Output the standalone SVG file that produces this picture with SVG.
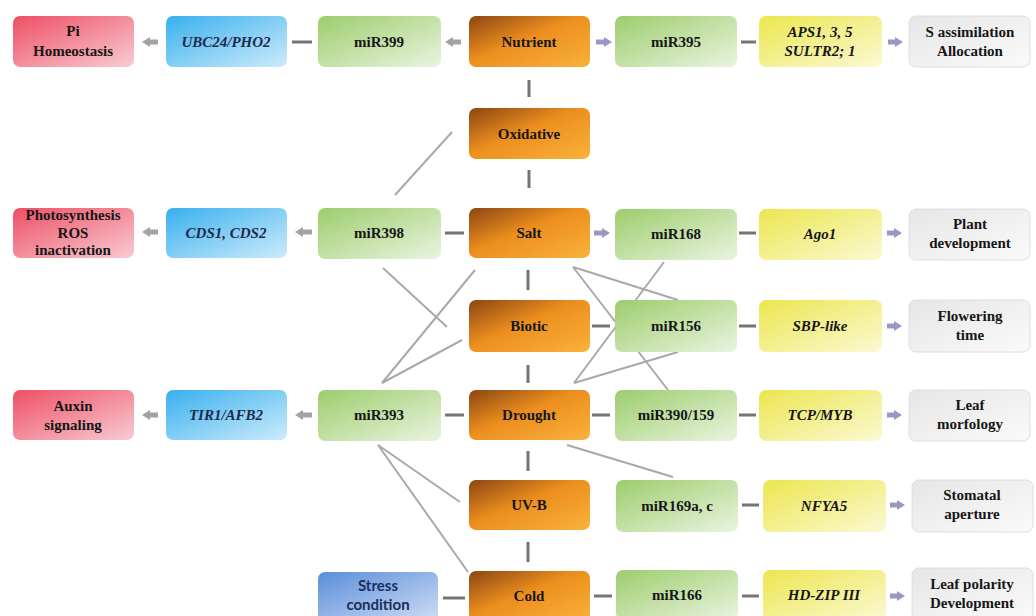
<svg xmlns="http://www.w3.org/2000/svg" width="1036" height="616" viewBox="0 0 1036 616">
<defs>
<linearGradient id="gRed" x1="0" y1="0" x2="1" y2="1"><stop offset="0" stop-color="#ee4f64"/><stop offset="1" stop-color="#f9cbd3"/></linearGradient>
<linearGradient id="gBlue" x1="0" y1="0" x2="1" y2="1"><stop offset="0" stop-color="#38b0ee"/><stop offset="1" stop-color="#cdebfb"/></linearGradient>
<linearGradient id="gGreen" x1="0" y1="0" x2="1" y2="1"><stop offset="0" stop-color="#9ccd6c"/><stop offset="1" stop-color="#eaf4e0"/></linearGradient>
<linearGradient id="gOrange" x1="0" y1="0" x2="1" y2="1"><stop offset="0" stop-color="#8a4612"/><stop offset="0.45" stop-color="#ec8e1e"/><stop offset="1" stop-color="#f9b23a"/></linearGradient>
<linearGradient id="gYellow" x1="0" y1="0" x2="1" y2="1"><stop offset="0" stop-color="#ece64e"/><stop offset="1" stop-color="#fbf9d4"/></linearGradient>
<linearGradient id="gGray" x1="0" y1="0" x2="1" y2="1"><stop offset="0" stop-color="#e6e6e6"/><stop offset="1" stop-color="#fafafa"/></linearGradient>
<linearGradient id="gStress" x1="0" y1="0" x2="1" y2="1"><stop offset="0" stop-color="#5a8edb"/><stop offset="1" stop-color="#d0def5"/></linearGradient>
<marker id="ahL" markerUnits="userSpaceOnUse" markerWidth="8" markerHeight="10" refX="1" refY="5" orient="auto"><path d="M0,0 L8,5 L0,10 Z" fill="#a2a2a6"/></marker>
<marker id="ahR" markerUnits="userSpaceOnUse" markerWidth="8" markerHeight="10" refX="1" refY="5" orient="auto"><path d="M0,0 L8,5 L0,10 Z" fill="#9a98c2"/></marker>
</defs>
<style>
.box{stroke:none}
.gray{stroke:#dedede;stroke-width:1}
.t{font-family:"Liberation Serif","Times New Roman",serif;font-weight:bold;font-size:15px;fill:#161616;text-anchor:middle}
.i{font-style:italic}
.nv{fill:#1c2a4e}
.ss{font-family:Lato,"Open Sans",sans-serif;font-weight:bold;font-size:15px;fill:#1b2f5a;text-anchor:middle}
.diag{stroke:#a9a9a9;stroke-width:2;fill:none}
.dash{stroke:#747474;stroke-width:3}
.arL{stroke:#a2a2a6;stroke-width:5;marker-end:url(#ahL)}
.arR{stroke:#9a98c2;stroke-width:5;marker-end:url(#ahR)}
</style>
<rect width="1036" height="616" fill="#ffffff"/>
<g id="connectors">
<line class="diag" x1="395" y1="195" x2="452" y2="132"/>
<line class="diag" x1="383" y1="268" x2="447" y2="327"/>
<line class="diag" x1="475" y1="270" x2="382" y2="383"/>
<line class="diag" x1="462" y1="340" x2="382" y2="383"/>
<line class="diag" x1="378" y1="445" x2="460" y2="502"/>
<line class="diag" x1="378" y1="445" x2="468" y2="572"/>
<line class="diag" x1="567" y1="445" x2="673" y2="477"/>
<line class="diag" x1="573" y1="267" x2="678" y2="300"/>
<line class="diag" x1="573" y1="267" x2="668" y2="390"/>
<line class="diag" x1="574" y1="383" x2="664" y2="262"/>
<line class="diag" x1="574" y1="383" x2="678" y2="352"/>
<line class="dash" x1="529" y1="80" x2="529" y2="97"/>
<line class="dash" x1="529" y1="170" x2="529" y2="188"/>
<line class="dash" x1="528" y1="270" x2="528" y2="290"/>
<line class="dash" x1="528" y1="365" x2="528" y2="383"/>
<line class="dash" x1="528" y1="451" x2="528" y2="471"/>
<line class="dash" x1="528" y1="542" x2="528" y2="562"/>
<line class="arL" x1="158" y1="42" x2="149" y2="42"/>
<line class="dash" x1="292" y1="42" x2="312" y2="42"/>
<line class="arL" x1="461" y1="42" x2="452" y2="42"/>
<line class="arR" x1="596" y1="42" x2="605" y2="42"/>
<line class="dash" x1="741" y1="42" x2="756" y2="42"/>
<line class="arR" x1="888" y1="42" x2="896" y2="42"/>
<line class="arL" x1="158" y1="232" x2="149" y2="232"/>
<line class="arL" x1="312" y1="232" x2="302" y2="232"/>
<line class="dash" x1="445" y1="233" x2="464" y2="233"/>
<line class="arR" x1="594" y1="233" x2="603" y2="233"/>
<line class="dash" x1="739" y1="233" x2="756" y2="233"/>
<line class="arR" x1="887" y1="233" x2="895" y2="233"/>
<line class="dash" x1="592" y1="326" x2="610" y2="326"/>
<line class="dash" x1="739" y1="326" x2="756" y2="326"/>
<line class="arR" x1="887" y1="326" x2="895" y2="326"/>
<line class="arL" x1="158" y1="415" x2="149" y2="415"/>
<line class="arL" x1="312" y1="415" x2="302" y2="415"/>
<line class="dash" x1="445" y1="415" x2="464" y2="415"/>
<line class="dash" x1="592" y1="415" x2="610" y2="415"/>
<line class="dash" x1="739" y1="415" x2="756" y2="415"/>
<line class="arR" x1="887" y1="415" x2="895" y2="415"/>
<line class="dash" x1="742" y1="505" x2="759" y2="505"/>
<line class="arR" x1="890" y1="505" x2="898" y2="505"/>
<line class="dash" x1="443" y1="598" x2="465" y2="598"/>
<line class="dash" x1="594" y1="596" x2="612" y2="596"/>
<line class="dash" x1="742" y1="596" x2="759" y2="596"/>
<line class="arR" x1="890" y1="596" x2="898" y2="596"/>
</g>
<g id="n-pi"><rect class="box" x="13" y="16" width="121" height="51" rx="7" fill="url(#gRed)"/><text class="t" x="73" y="36">Pi</text><text class="t" x="73" y="56">Homeostasis</text></g>
<g id="n-ubc24"><rect class="box" x="166" y="16" width="121" height="51" rx="7" fill="url(#gBlue)"/><text class="t i nv" x="226" y="47">UBC24/PHO2</text></g>
<g id="n-mir399"><rect class="box" x="318" y="16" width="123" height="51" rx="7" fill="url(#gGreen)"/><text class="t" x="379" y="47">miR399</text></g>
<g id="n-nutrient"><rect class="box" x="469" y="16" width="121" height="51" rx="7" fill="url(#gOrange)"/><text class="t" x="529" y="47">Nutrient</text></g>
<g id="n-mir395"><rect class="box" x="615" y="16" width="122" height="51" rx="7" fill="url(#gGreen)"/><text class="t" x="676" y="47">miR395</text></g>
<g id="n-aps"><rect class="box" x="759" y="16" width="123" height="51" rx="7" fill="url(#gYellow)"/><text class="t i" x="820" y="37">APS1, 3, 5</text><text class="t i" x="820" y="56">SULTR2; 1</text></g>
<g id="n-sassim"><rect class="box gray" x="909" y="16" width="121" height="51" rx="7" fill="url(#gGray)"/><text class="t" x="970" y="37">S assimilation</text><text class="t" x="970" y="56">Allocation</text></g>
<g id="n-oxidative"><rect class="box" x="469" y="108" width="121" height="51" rx="7" fill="url(#gOrange)"/><text class="t" x="529" y="139">Oxidative</text></g>
<g id="n-photo"><rect class="box" x="13" y="208" width="121" height="50" rx="7" fill="url(#gRed)"/><text class="t" x="73" y="220">Photosynthesis</text><text class="t" x="73" y="238">ROS</text><text class="t" x="73" y="255">inactivation</text></g>
<g id="n-cds"><rect class="box" x="166" y="208" width="121" height="50" rx="7" fill="url(#gBlue)"/><text class="t i nv" x="226" y="238">CDS1, CDS2</text></g>
<g id="n-mir398"><rect class="box" x="318" y="208" width="123" height="51" rx="7" fill="url(#gGreen)"/><text class="t" x="379" y="238">miR398</text></g>
<g id="n-salt"><rect class="box" x="469" y="208" width="121" height="50" rx="7" fill="url(#gOrange)"/><text class="t" x="529" y="238">Salt</text></g>
<g id="n-mir168"><rect class="box" x="615" y="209" width="122" height="51" rx="7" fill="url(#gGreen)"/><text class="t" x="676" y="239">miR168</text></g>
<g id="n-ago1"><rect class="box" x="759" y="209" width="123" height="51" rx="7" fill="url(#gYellow)"/><text class="t i" x="820" y="239">Ago1</text></g>
<g id="n-plantdev"><rect class="box gray" x="909" y="209" width="121" height="51" rx="7" fill="url(#gGray)"/><text class="t" x="970" y="229">Plant</text><text class="t" x="970" y="248">development</text></g>
<g id="n-biotic"><rect class="box" x="469" y="300" width="121" height="52" rx="7" fill="url(#gOrange)"/><text class="t" x="529" y="331">Biotic</text></g>
<g id="n-mir156"><rect class="box" x="615" y="300" width="122" height="52" rx="7" fill="url(#gGreen)"/><text class="t" x="676" y="331">miR156</text></g>
<g id="n-sbp"><rect class="box" x="759" y="300" width="123" height="52" rx="7" fill="url(#gYellow)"/><text class="t i" x="820" y="331">SBP-like</text></g>
<g id="n-flowering"><rect class="box gray" x="909" y="300" width="121" height="52" rx="7" fill="url(#gGray)"/><text class="t" x="970" y="321">Flowering</text><text class="t" x="970" y="340">time</text></g>
<g id="n-auxin"><rect class="box" x="13" y="390" width="121" height="50" rx="7" fill="url(#gRed)"/><text class="t" x="73" y="411">Auxin</text><text class="t" x="73" y="430">signaling</text></g>
<g id="n-tir1"><rect class="box" x="166" y="390" width="121" height="50" rx="7" fill="url(#gBlue)"/><text class="t i nv" x="226" y="420">TIR1/AFB2</text></g>
<g id="n-mir393"><rect class="box" x="318" y="390" width="123" height="51" rx="7" fill="url(#gGreen)"/><text class="t" x="379" y="420">miR393</text></g>
<g id="n-drought"><rect class="box" x="469" y="390" width="121" height="50" rx="7" fill="url(#gOrange)"/><text class="t" x="529" y="420">Drought</text></g>
<g id="n-mir390"><rect class="box" x="615" y="390" width="122" height="51" rx="7" fill="url(#gGreen)"/><text class="t" x="676" y="420">miR390/159</text></g>
<g id="n-tcp"><rect class="box" x="759" y="390" width="123" height="51" rx="7" fill="url(#gYellow)"/><text class="t i" x="820" y="420">TCP/MYB</text></g>
<g id="n-leafmorf"><rect class="box gray" x="909" y="390" width="121" height="51" rx="7" fill="url(#gGray)"/><text class="t" x="970" y="410">Leaf</text><text class="t" x="970" y="429">morfology</text></g>
<g id="n-uvb"><rect class="box" x="469" y="480" width="121" height="50" rx="7" fill="url(#gOrange)"/><text class="t" x="529" y="510">UV-B</text></g>
<g id="n-mir169"><rect class="box" x="616" y="480" width="122" height="52" rx="7" fill="url(#gGreen)"/><text class="t" x="677" y="511">miR169a, c</text></g>
<g id="n-nfya5"><rect class="box" x="763" y="480" width="123" height="52" rx="7" fill="url(#gYellow)"/><text class="t i" x="824" y="511">NFYA5</text></g>
<g id="n-stomatal"><rect class="box gray" x="912" y="480" width="121" height="52" rx="7" fill="url(#gGray)"/><text class="t" x="972" y="500">Stomatal</text><text class="t" x="972" y="519">aperture</text></g>
<g id="n-stress"><rect class="box" x="318" y="572" width="120" height="50" rx="7" fill="url(#gStress)"/><text class="ss" x="378" y="591">Stress</text><text class="ss" x="378" y="610">condition</text></g>
<g id="n-cold"><rect class="box" x="469" y="571" width="121" height="50" rx="7" fill="url(#gOrange)"/><text class="t" x="529" y="601">Cold</text></g>
<g id="n-mir166"><rect class="box" x="616" y="570" width="122" height="50" rx="7" fill="url(#gGreen)"/><text class="t" x="677" y="600">miR166</text></g>
<g id="n-hdzip"><rect class="box" x="763" y="570" width="123" height="50" rx="7" fill="url(#gYellow)"/><text class="t i" x="824" y="600">HD-ZIP III</text></g>
<g id="n-leafpol"><rect class="box gray" x="912" y="568" width="121" height="52" rx="7" fill="url(#gGray)"/><text class="t" x="972" y="589">Leaf polarity</text><text class="t" x="972" y="608">Development</text></g>
</svg>
